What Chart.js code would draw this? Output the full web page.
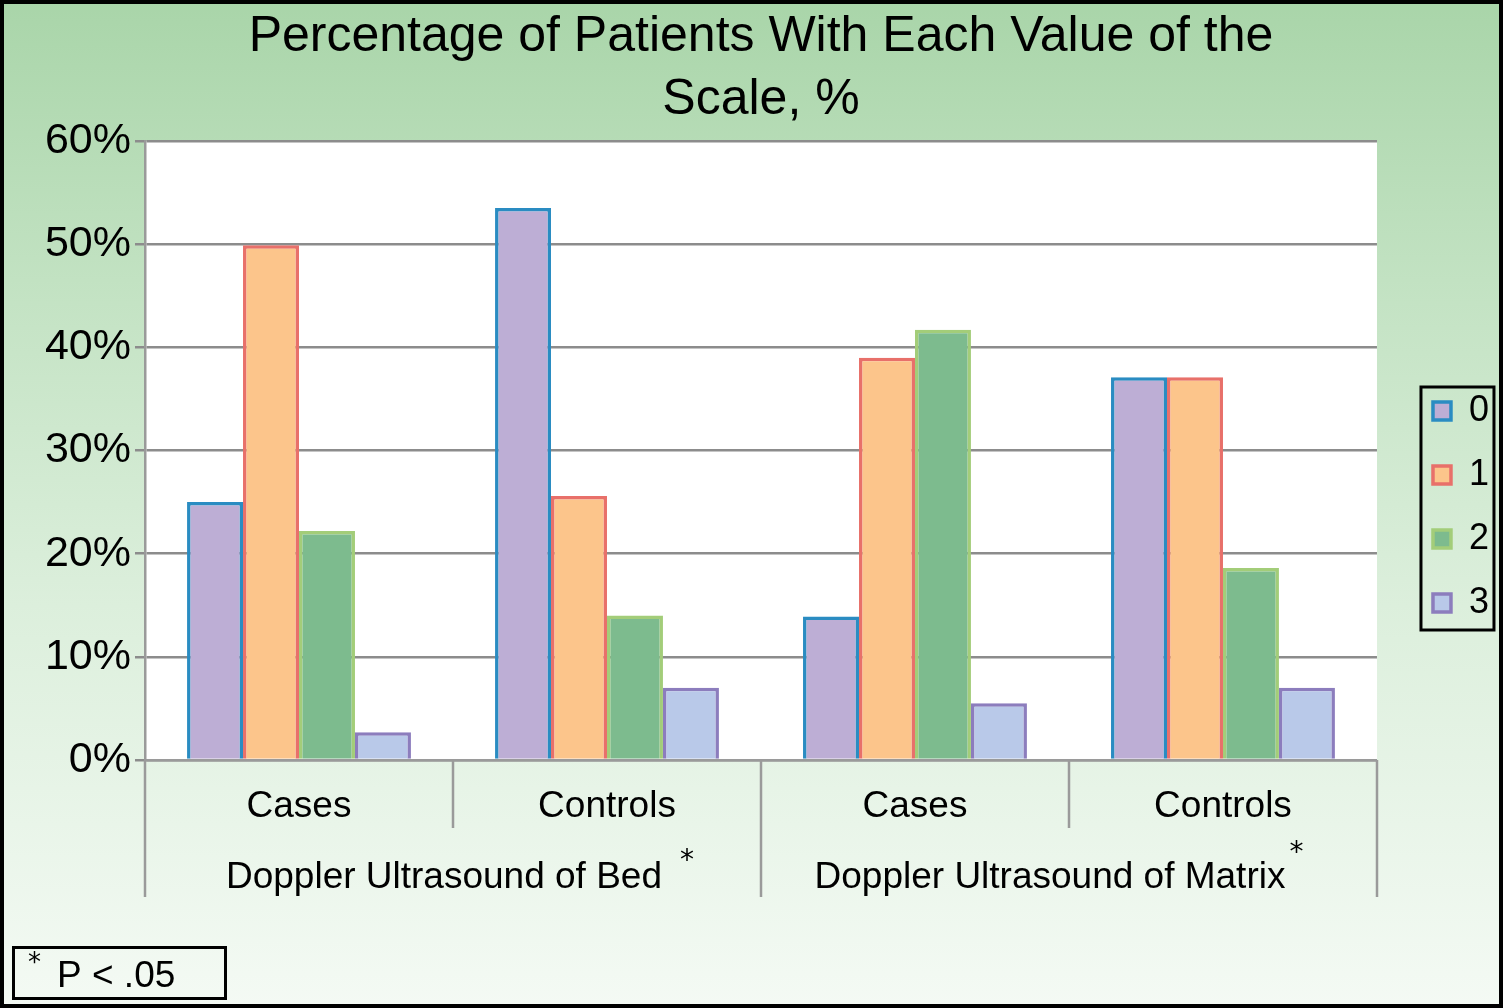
<!DOCTYPE html>
<html><head><meta charset="utf-8">
<script src="https://cdn.jsdelivr.net/npm/chart.js@4.4.0/dist/chart.umd.min.js"></script>
<style>
html,body{margin:0;padding:0;background:#fff;}
#wrap{position:relative;width:1503px;height:1008px;background:linear-gradient(to bottom,#a9d5a9 0%,#c4e3c4 30%,#dcefdc 60%,#f4faf4 100%);}
#frame{position:absolute;left:0;top:0;width:1503px;height:1008px;box-sizing:border-box;border:4px solid #000;pointer-events:none;}
canvas{position:absolute;left:0;top:0;}
</style></head>
<body><div id="wrap"><canvas id="c" width="1503" height="1008"></canvas><div id="frame"></div></div>
<script>
const categories = ['Cases', 'Controls', 'Cases', 'Controls'];
const groups = ['Doppler Ultrasound of Bed', 'Doppler Ultrasound of Matrix'];
const seriesNames = ['0', '1', '2', '3'];
const score0 = [25.0, 53.5, 13.9, 37.1];
const score1 = [49.9, 25.6, 39.0, 37.1];
const score2 = [22.2, 14.0, 41.7, 18.6];
const score3 = [2.7, 7.0, 5.5, 7.0];
const yMax = 60;
const yStep = 10;
const titleLines = ['Percentage of Patients With Each Value of the', 'Scale, %'];
const footnote = 'P < .05';

const FONT = '"Liberation Sans", Arial, Helvetica, sans-serif';
const fills = ['#bdaed5', '#fcc58b', '#7dbb8e', '#b9c9e9'];
const borders = ['#2a8cc2', '#e8706a', '#a3cd79', '#8c7dbd'];
const seriesData = [score0, score1, score2, score3];

const decorPlugin = {
  id: 'decor',
  beforeDraw(chart) {
    const {ctx, chartArea: a} = chart;
    ctx.save();
    ctx.fillStyle = '#ffffff';
    ctx.fillRect(a.left, a.top, a.right - a.left, a.bottom - a.top);
    ctx.restore();
  },
  afterDraw(chart) {
    const {ctx, chartArea: a} = chart;
    const xs = chart.scales.x;
    const half = (xs.getPixelForValue(1) - xs.getPixelForValue(0)) / 2;
    ctx.save();
    ctx.strokeStyle = '#9a9a9a';
    ctx.lineWidth = 2.5;
    for (let i = 0; i <= categories.length; i++) {
      const x = Math.round(xs.getPixelForValue(0) - half + i * 2 * half);
      const outer = (i % 2 === 0);
      ctx.beginPath();
      ctx.moveTo(x, a.bottom);
      ctx.lineTo(x, a.bottom + (outer ? 137 : 68));
      ctx.stroke();
    }
    ctx.fillStyle = '#000';
    ctx.textBaseline = 'middle';
    const gy = a.bottom + 118;
    const shifts = [8, -9];
    groups.forEach((g, gi) => {
      const cx = (xs.getPixelForValue(gi * 2) + xs.getPixelForValue(gi * 2 + 1)) / 2;
      ctx.font = '37px ' + FONT;
      const w = ctx.measureText(g).width;
      const gap = gi === 0 ? 18 : 4;
      const starW = 16;
      const left = cx - (w + gap + starW) / 2 + shifts[gi];
      ctx.textAlign = 'left';
      ctx.fillText(g, left, gy);
      ctx.font = '28px "DejaVu Sans", sans-serif';
      ctx.fillText('*', left + w + gap, gi === 0 ? gy - 16 : gy - 24);
    });
    const lg = chart.legend;
    if (lg && lg.legendHitBoxes && lg.legendHitBoxes.length) {
      const hb = lg.legendHitBoxes;
      const c0 = hb[0].top + hb[0].height / 2;
      const last = hb[hb.length - 1];
      const c3 = last.top + last.height / 2;
      const l = hb[0].left - 12;
      const t = c0 - 24;
      const b = c3 + 27;
      ctx.strokeStyle = '#000';
      ctx.lineWidth = 3;
      ctx.strokeRect(l, t, 73, b - t);
    }
    ctx.strokeStyle = '#000';
    ctx.lineWidth = 3;
    ctx.strokeRect(13.5, 947.5, 212, 51);
    ctx.font = '26px "DejaVu Sans", sans-serif';
    ctx.textAlign = 'left';
    ctx.textBaseline = 'middle';
    ctx.fillText('*', 28, 964);
    ctx.font = '37px ' + FONT;
    ctx.fillText(footnote, 57, 977);
    ctx.restore();
  }
};

new Chart(document.getElementById('c'), {
  type: 'bar',
  data: {
    labels: categories,
    datasets: seriesNames.map((n, i) => ({
      label: n,
      data: seriesData[i],
      backgroundColor: fills[i],
      borderColor: borders[i],
      borderWidth: 3.5,
      barPercentage: 1.0,
      categoryPercentage: 0.727
    }))
  },
  plugins: [decorPlugin],
  options: {
    responsive: false,
    animation: false,
    devicePixelRatio: 1,
    layout: {padding: {left: 0, right: 4, top: 6, bottom: 0}},
    plugins: {
      title: {
        display: true,
        text: titleLines,
        fullSize: false,
        color: '#000',
        font: {family: FONT, size: 50, weight: 'normal', lineHeight: 1.26},
        padding: {top: 0, bottom: 9}
      },
      legend: {
        display: true,
        position: 'right',
        align: 'center',
        labels: {
          color: '#000',
          font: {family: FONT, size: 36},
          boxWidth: 18,
          boxHeight: 18,
          padding: 28
        }
      },
      tooltip: {enabled: false}
    },
    scales: {
      x: {
        type: 'category',
        grid: {display: true, drawOnChartArea: false, drawTicks: false, color: '#9a9a9a'},
        border: {display: true, color: '#9a9a9a', width: 2.5},
        ticks: {color: '#000', font: {family: FONT, size: 37}, padding: 25, maxRotation: 0},
        afterFit(s) { s.height = 248; }
      },
      y: {
        min: 0,
        max: yMax,
        ticks: {
          stepSize: yStep,
          color: '#000',
          font: {family: FONT, size: 43},
          padding: 4,
          callback: v => v + '%'
        },
        grid: {color: '#8c8c8c', lineWidth: 2.5, tickLength: 10},
        border: {display: true, color: '#9a9a9a', width: 2.5},
        afterFit(s) { s.width = 145; }
      },
      yR: {
        position: 'right',
        display: true,
        grid: {display: false},
        border: {display: false},
        ticks: {display: false},
        afterFit(s) { s.width = 28; }
      }
    }
  }
});
</script>
</body></html>
